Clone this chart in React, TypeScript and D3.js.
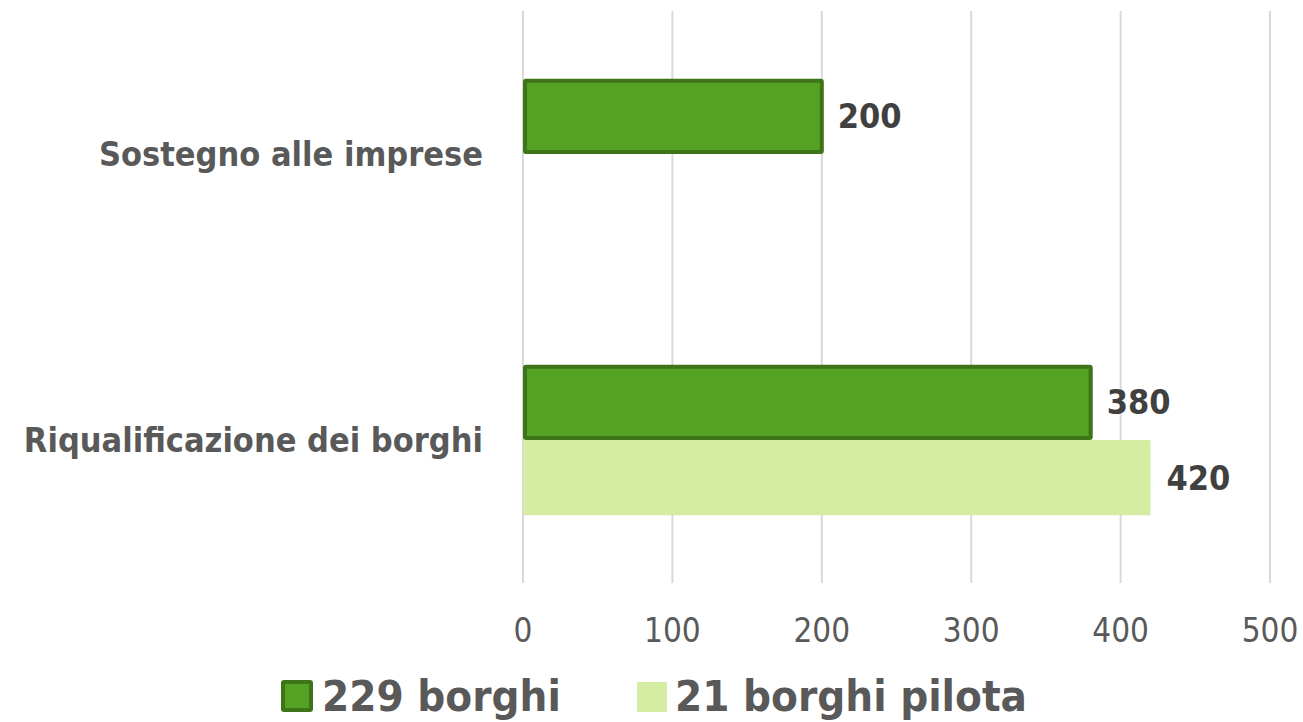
import React from "react";
import * as d3 from "d3";

const categories = ["Sostegno alle imprese", "Riqualificazione dei borghi"];
const seriesNames = ["229 borghi", "21 borghi pilota"];
const seriesValues: (number | null)[][] = [
  [200, 380],
  [null, 420],
];
const tickValues = [0, 100, 200, 300, 400, 500];

const W = 1303;
const H = 722;
const FONT = "'DejaVu Sans Condensed', 'DejaVu Sans', sans-serif";
const fills = ["#54a123", "#d5eca3"];
const strokes = ["#3e7418", "none"];

export default function App() {
  const x = d3.scaleLinear().domain([0, 500]).range([523, 1270]);
  const y0 = d3.scaleBand<string>().domain(categories).range([11, 583]).padding(0);
  const y1 = d3
    .scaleBand<string>()
    .domain(seriesNames)
    .range([0, y0.bandwidth()])
    .paddingInner(0)
    .paddingOuter(0.9);

  const legendX = [281, 637];

  return (
    <svg
      width={W}
      height={H}
      style={{ position: "absolute", left: 0, top: 0, background: "#fff" }}
      fontFamily={FONT}
    >
      {tickValues.map((t) => (
        <g key={t}>
          <line x1={x(t)} x2={x(t)} y1={11} y2={583} stroke="#d9d9d9" strokeWidth={2} />
          <text
            x={x(t)}
            y={630}
            textAnchor="middle"
            dominantBaseline="central"
            fontSize={33}
            fill="#595959"
          >
            {t}
          </text>
        </g>
      ))}
      {categories.map((c, ci) => (
        <g key={c}>
          <text
            x={483}
            y={(y0(c) as number) + y0.bandwidth() / 2}
            textAnchor="end"
            dominantBaseline="central"
            fontSize={34}
            fontWeight="bold"
            fill="#595959"
          >
            {c}
          </text>
          {seriesNames.map((s, si) => {
            const v = seriesValues[si][ci];
            if (v == null) return null;
            const yy = (y0(c) as number) + (y1(s) as number);
            const h = y1.bandwidth();
            const sw = si === 0 ? 4 : 0;
            return (
              <g key={s}>
                <rect
                  x={x(0) + sw / 2}
                  y={yy + sw / 2}
                  width={x(v) - x(0) - sw / 2}
                  height={h - sw}
                  fill={fills[si]}
                  stroke={strokes[si]}
                  strokeWidth={sw}
                  rx={1}
                />
                <text
                  x={x(v) + 16}
                  y={yy + h / 2}
                  dominantBaseline="central"
                  fontSize={34}
                  fontWeight="bold"
                  fill="#404040"
                >
                  {v}
                </text>
              </g>
            );
          })}
        </g>
      ))}
      {seriesNames.map((s, si) => (
        <g key={s} transform={`translate(${legendX[si]},696)`}>
          <rect
            x={si === 0 ? 2 : 0}
            y={-14}
            width={si === 0 ? 28 : 30}
            height={si === 0 ? 28 : 30}
            fill={fills[si]}
            stroke={strokes[si]}
            strokeWidth={si === 0 ? 4 : 0}
            rx={1}
          />
          <text
            x={si === 0 ? 41 : 38}
            y={0}
            dominantBaseline="central"
            fontSize={43.5}
            fontWeight="bold"
            fill="#595959"
          >
            {s}
          </text>
        </g>
      ))}
    </svg>
  );
}
